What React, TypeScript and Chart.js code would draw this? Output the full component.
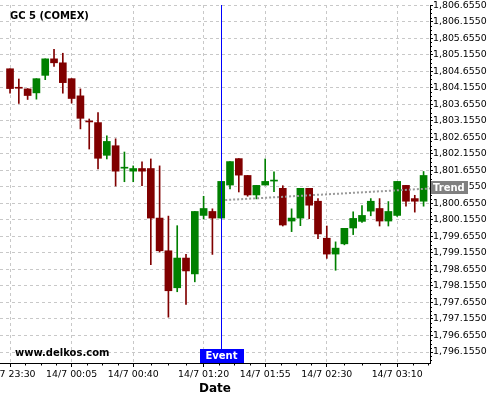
import React, { useEffect, useRef } from "react";
import { Chart, registerables } from "chart.js";

Chart.register(...registerables);

// ---- data ----
const opens = [
  1804.73, 1804.15, 1804.12, 1804.0, 1804.53, 1805.03, 1804.91, 1804.43, 1803.91, 1803.13,
  1803.1, 1802.11, 1802.4, 1801.72, 1801.63, 1801.71, 1801.71, 1800.21, 1799.22, 1798.1,
  1799.0, 1798.52, 1800.29, 1800.41, 1800.21, 1801.21, 1802.01, 1801.5, 1800.91, 1801.21,
  1801.33, 1801.11, 1800.12, 1800.21, 1801.11, 1800.72, 1799.6, 1799.12, 1799.43, 1799.91,
  1800.11, 1800.42, 1800.5, 1800.12, 1800.29, 1801.2, 1800.8, 1800.72,
];
const highs = [
  1804.73, 1804.42, 1804.13, 1804.43, 1805.03, 1805.32, 1805.2, 1804.43, 1804.12, 1803.21,
  1803.4, 1802.7, 1802.61, 1802.21, 1801.79, 1801.91, 1802.0, 1801.79, 1800.27, 1799.98,
  1799.11, 1800.41, 1800.87, 1800.49, 1801.32, 1801.92, 1802.01, 1801.5, 1801.2, 1802.0,
  1801.61, 1801.19, 1800.49, 1801.11, 1801.11, 1800.8, 1799.97, 1799.49, 1799.9, 1800.4,
  1800.59, 1800.8, 1800.8, 1800.71, 1801.32, 1801.2, 1800.9, 1801.62,
];
const lows = [
  1803.99, 1803.68, 1803.8, 1803.81, 1804.4, 1804.8, 1803.99, 1803.69, 1802.91, 1802.3,
  1801.7, 1802.0, 1801.18, 1801.31, 1801.31, 1801.19, 1798.8, 1799.18, 1797.21, 1797.98,
  1797.6, 1798.28, 1800.18, 1799.11, 1800.21, 1801.09, 1801.0, 1800.87, 1800.79, 1801.21,
  1801.01, 1799.97, 1799.8, 1799.98, 1800.19, 1799.59, 1798.99, 1798.63, 1799.4, 1799.71,
  1800.08, 1800.28, 1799.97, 1799.97, 1800.26, 1800.57, 1800.39, 1800.57,
];
const closes = [
  1804.13, 1804.14, 1803.92, 1804.43, 1805.03, 1804.91, 1804.31, 1803.83, 1803.23, 1803.12,
  1802.02, 1802.53, 1801.63, 1801.73, 1801.71, 1801.63, 1800.21, 1799.22, 1798.01, 1799.0,
  1798.61, 1800.41, 1800.5, 1800.21, 1801.32, 1801.92, 1801.51, 1800.91, 1801.2, 1801.32,
  1801.34, 1800.0, 1800.21, 1801.11, 1800.6, 1799.73, 1799.12, 1799.3, 1799.9, 1800.2,
  1800.29, 1800.72, 1800.12, 1800.41, 1801.32, 1800.72, 1800.72, 1801.5,
];

const xTickPositions = [0, 7, 14, 22, 29, 36, 44];
const xTickLabels = [
  "14/7 23:30",
  "14/7 00:05",
  "14/7 00:40",
  "14/7 01:20",
  "14/7 01:55",
  "14/7 02:30",
  "14/7 03:10",
];
const yTickValues = [
  1796.155, 1796.655, 1797.155, 1797.655, 1798.155, 1798.655, 1799.155, 1799.655,
  1800.155, 1800.655, 1801.155, 1801.655, 1802.155, 1802.655, 1803.155, 1803.655,
  1804.155, 1804.655, 1805.155, 1805.655, 1806.155, 1806.655,
];
const eventIndex = 24;
const trendX = [24.45, 47.73];
const trendY = [1800.755, 1801.106];

const titleText = "GC 5 (COMEX)";
const watermarkText = "www.delkos.com";
const eventText = "Event";
const trendText = "Trend";
const xTitle = "Date";

const X_MIN = -1.14;
const X_MAX = 47.73;
const Y_MIN = 1795.823;
const Y_MAX = 1806.66;

const RED = "#800000";
const GREEN = "#008000";
const GRID = "#c8c8c8";
const FONT = "DejaVu Sans";

function fmtPrice(v: number): string {
  return v.toLocaleString("en-US", { minimumFractionDigits: 4, maximumFractionDigits: 4 });
}

const overlayPlugin = {
  id: "overlay",
  afterDraw(chart: any) {
    const ctx = chart.ctx as CanvasRenderingContext2D;
    const area = chart.chartArea;
    const xs = chart.scales.x;
    const ys = chart.scales.y;
    ctx.save();

    // minor ticks x
    ctx.strokeStyle = "#000";
    ctx.lineWidth = 1;
    const minorX: number[] = [];
    for (let i = 0; i < xTickPositions.length - 1; i++) {
      const a = xTickPositions[i];
      const b = xTickPositions[i + 1];
      for (let k = 1; k < 4; k++) minorX.push(a + ((b - a) * k) / 4);
    }
    const lastX = xTickPositions[xTickPositions.length - 1];
    for (let k = 1; k < 4; k++) {
      const v = lastX + (7 * k) / 4;
      if (v <= X_MAX) minorX.push(v);
    }
    const axisY = Math.round(area.bottom);
    ctx.beginPath();
    for (const v of minorX) {
      const px = Math.round(xs.getPixelForValue(v)) + 0.5;
      ctx.moveTo(px, axisY);
      ctx.lineTo(px, axisY + 2.5);
    }
    ctx.stroke();

    // minor ticks y
    const minorY: number[] = [];
    for (let i = 0; i < yTickValues.length - 1; i++) {
      const a = yTickValues[i];
      const b = yTickValues[i + 1];
      for (let k = 1; k < 4; k++) minorY.push(a + ((b - a) * k) / 4);
    }
    for (let k = 1; k < 4; k++) {
      const v = yTickValues[0] - (0.5 * k) / 4;
      if (v >= Y_MIN) minorY.push(v);
    }
    const axisX = Math.round(area.right);
    ctx.beginPath();
    for (const v of minorY) {
      const py = Math.round(ys.getPixelForValue(v)) + 0.5;
      ctx.moveTo(axisX, py);
      ctx.lineTo(axisX + 2, py);
    }
    ctx.stroke();

    // event line
    const ex = Math.round(xs.getPixelForValue(eventIndex)) + 0.5;
    ctx.strokeStyle = "#0000ff";
    ctx.lineWidth = 1;
    ctx.beginPath();
    ctx.moveTo(ex, area.top);
    ctx.lineTo(ex, area.bottom);
    ctx.stroke();

    // event box
    ctx.font = `bold 10px "${FONT}"`;
    ctx.textBaseline = "middle";
    ctx.textAlign = "center";
    const ebW = 44;
    const ebH = 14;
    ctx.fillStyle = "#0000ff";
    ctx.fillRect(Math.round(ex - ebW / 2), Math.round(area.bottom) - ebH, ebW, ebH);
    ctx.fillStyle = "#ffffff";
    ctx.fillText(eventText, ex, Math.round(area.bottom) - ebH / 2 + 0.5);

    // trend box
    const ty = ys.getPixelForValue(trendY[1]);
    const tbW = 37;
    const tbH = 13;
    ctx.fillStyle = "#808080";
    ctx.fillRect(axisX + 1, Math.round(ty - tbH / 2 - 0.5), tbW, tbH);
    ctx.fillStyle = "#ffffff";
    ctx.textAlign = "left";
    ctx.fillText(trendText, axisX + 3, Math.round(ty - 0.5) + 0.5);

    // title
    ctx.fillStyle = "#000";
    ctx.textAlign = "left";
    ctx.font = `bold 10px "${FONT}"`;
    ctx.fillText(titleText, area.left + 10, 16);

    // watermark
    ctx.fillText(watermarkText, area.left + 15, area.bottom - 9.5);

    ctx.restore();
  },
};

export default function App() {
  const ref = useRef<HTMLCanvasElement | null>(null);

  useEffect(() => {
    if (!ref.current) return;
    const n = opens.length;
    const idx = Array.from({ length: n }, (_, i) => i);
    const colors = idx.map((i) => (closes[i] >= opens[i] ? GREEN : RED));

    const chart = new Chart(ref.current, {
      type: "bar",
      data: {
        datasets: [
          {
            type: "line",
            label: "trend",
            data: trendX.map((x, i) => ({ x, y: trendY[i] })),
            borderColor: "#9a9a9a",
            borderWidth: 2,
            borderDash: [2, 2],
            pointRadius: 0,
            fill: false,
            order: 0,
          } as any,
          {
            label: "body",
            data: idx.map((i) => ({ x: i, y: [opens[i], closes[i]] })),
            backgroundColor: colors,
            borderWidth: 0,
            barThickness: 7,
            minBarLength: 1,
            grouped: false,
            order: 1,
          } as any,
          {
            label: "wick",
            data: idx.map((i) => ({ x: i, y: [lows[i], highs[i]] })),
            backgroundColor: colors,
            borderWidth: 0,
            barThickness: 1,
            grouped: false,
            order: 2,
          } as any,
        ],
      },
      options: {
        animation: false,
        responsive: false,
        maintainAspectRatio: false,
        devicePixelRatio: 1,
        events: [],
        layout: { padding: { top: 5, left: 0, right: 0, bottom: 0 } },
        plugins: {
          legend: { display: false },
          tooltip: { enabled: false },
          title: { display: false },
        },
        scales: {
          x: {
            type: "linear",
            min: X_MIN,
            max: X_MAX,
            offset: false,
            grid: {
              offset: false,
              color: GRID,
              lineWidth: 1,
              drawTicks: true,
              tickLength: 4,
              tickColor: "#000",
              tickWidth: 1,
            },
            border: { display: true, color: "#000", width: 1, dash: [3, 3] },
            ticks: {
              color: "#000",
              font: { family: FONT, size: 9.4 },
              padding: 2,
              maxRotation: 0,
              autoSkip: false,
              callback: (v: any) => {
                const k = xTickPositions.indexOf(Number(v));
                return k >= 0 ? xTickLabels[k] : "";
              },
            },
            title: {
              display: true,
              text: xTitle,
              color: "#000",
              font: { family: FONT, size: 12, weight: "bold" },
              padding: { top: 0, bottom: 4 },
            },
            afterBuildTicks: (s: any) => {
              s.ticks = xTickPositions.map((v) => ({ value: v }));
            },
            afterFit: (s: any) => {
              s.height = 37;
              s.paddingLeft = 0;
              s.paddingRight = 0;
            },
          } as any,
          y: {
            type: "linear",
            position: "right",
            min: Y_MIN,
            max: Y_MAX,
            grid: {
              color: GRID,
              lineWidth: 1,
              drawTicks: true,
              tickLength: 3,
              tickColor: "#000",
              tickWidth: 1,
            },
            border: { display: true, color: "#000", width: 1, dash: [3, 3] },
            ticks: {
              color: "#000",
              font: { family: FONT, size: 9.4 },
              padding: 0,
              autoSkip: false,
              callback: (v: any) => fmtPrice(Number(v)),
            },
            afterBuildTicks: (s: any) => {
              s.ticks = yTickValues.map((v) => ({ value: v }));
            },
            afterFit: (s: any) => {
              s.width = 70;
              s.paddingTop = 0;
              s.paddingBottom = 0;
            },
          } as any,
        },
      },
      plugins: [overlayPlugin],
    });

    return () => chart.destroy();
  }, []);

  return (
    <div style={{ position: "fixed", left: 0, top: 0, width: 500, height: 400, background: "#fff" }}>
      <canvas ref={ref} width={500} height={400} style={{ display: "block", width: 500, height: 400 }} />
    </div>
  );
}
